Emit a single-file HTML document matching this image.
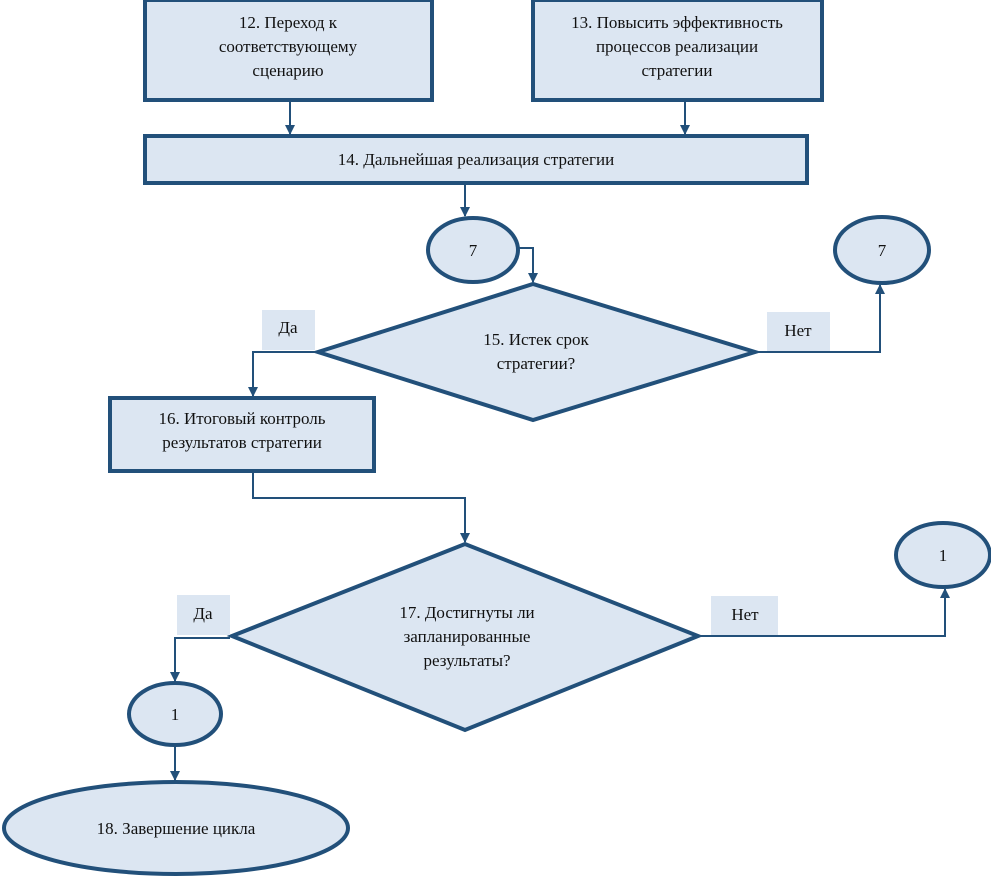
<!DOCTYPE html>
<html><head><meta charset="utf-8"><style>
html,body{margin:0;padding:0;background:#fff;}
svg{display:block;}
text{font-family:"Liberation Serif",serif;font-size:17px;fill:#111;text-anchor:middle;}
</style></head><body>
<svg width="991" height="877" viewBox="0 0 991 877" xmlns="http://www.w3.org/2000/svg">
<defs>
<marker id="a" markerWidth="10" markerHeight="10" refX="9" refY="5" orient="auto" markerUnits="userSpaceOnUse">
<path d="M0,0 L10,5 L0,10 z" fill="#22507a"/></marker>
</defs>
<g fill="#dce6f2" stroke="#22507a" stroke-width="4">
<rect x="145" y="0" width="287" height="100"/>
<rect x="533" y="0" width="289" height="100"/>
<rect x="145" y="136" width="662" height="47"/>
<ellipse cx="473" cy="250" rx="45" ry="32"/>
<ellipse cx="882" cy="250" rx="47" ry="33"/>
<polygon points="318,352 533,284 755,352 533,420"/>
<rect x="110" y="398" width="264" height="73"/>
<polygon points="232,636 465,544 698,636 465,730"/>
<ellipse cx="943" cy="555" rx="47" ry="32"/>
<ellipse cx="175" cy="714" rx="46" ry="31"/>
<ellipse cx="176" cy="828" rx="172" ry="46"/>
</g>
<g fill="#dce6f2">
<rect x="262" y="310" width="53" height="40"/>
<rect x="767" y="312" width="63" height="40"/>
<rect x="177" y="595" width="53" height="40"/>
<rect x="711" y="596" width="67" height="40"/>
</g>
<g fill="none" stroke="#22507a" stroke-width="2" marker-end="url(#a)">
<path d="M290,102 V134"/>
<path d="M685,102 V134"/>
<path d="M465,185 V216"/>
<path d="M519,248 H533 V282"/>
<path d="M757,352 H880 V285"/>
<path d="M316,352 H253 V396"/>
<path d="M253,473 V498 H465 V542"/>
<path d="M700,636 H945 V589"/>
<path d="M230,638 H175 V681"/>
<path d="M175,746 V780"/>
</g>
<text x="288" y="28">12. Переход к</text>
<text x="288" y="52">соответствующему</text>
<text x="288" y="76">сценарию</text>
<text x="677" y="28">13. Повысить эффективность</text>
<text x="677" y="52">процессов реализации</text>
<text x="677" y="76">стратегии</text>
<text x="476" y="165">14. Дальнейшая реализация стратегии</text>
<text x="473" y="256">7</text>
<text x="882" y="256">7</text>
<text x="536" y="345">15. Истек срок</text>
<text x="536" y="369">стратегии?</text>
<text x="288" y="333">Да</text>
<text x="798" y="336">Нет</text>
<text x="242" y="424">16. Итоговый контроль</text>
<text x="242" y="448">результатов стратегии</text>
<text x="467" y="618">17. Достигнуты ли</text>
<text x="467" y="642">запланированные</text>
<text x="467" y="666">результаты?</text>
<text x="203" y="619">Да</text>
<text x="745" y="620">Нет</text>
<text x="943" y="561">1</text>
<text x="175" y="720">1</text>
<text x="176" y="834">18. Завершение цикла</text>
</svg>
</body></html>
